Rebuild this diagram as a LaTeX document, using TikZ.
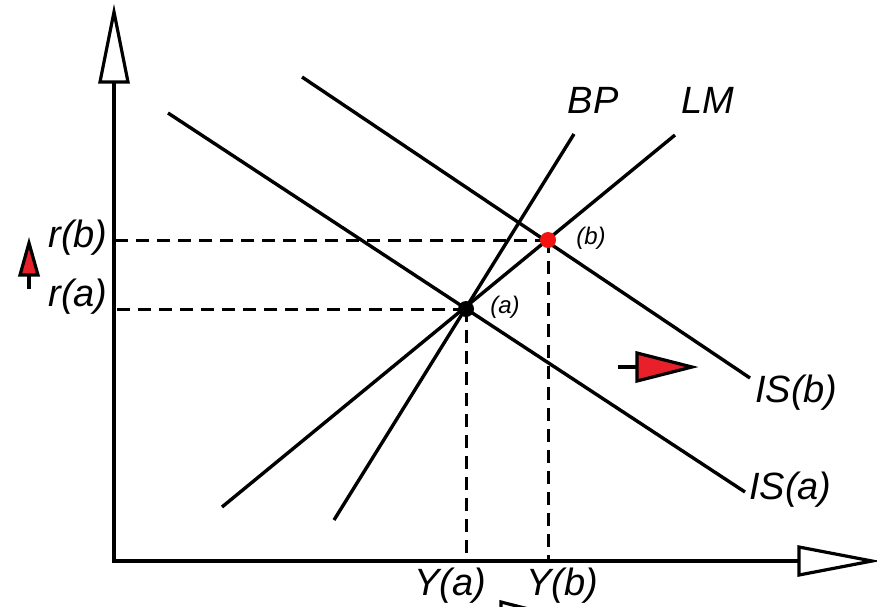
\documentclass[tikz,border=0pt]{standalone}
\usepackage{fontspec}
\setsansfont{Liberation Sans}
\usetikzlibrary{arrows.meta}
\definecolor{ptred}{HTML}{F21212}
\definecolor{arrowred}{HTML}{E8202A}
\tikzset{
  curve/.style={line width=3.4pt},
  axisline/.style={line width=3.4pt},
  guide/.style={line width=3pt,dash pattern=on 13pt off 8pt},
  lbl/.style={font=\sffamily\itshape\fontsize{38}{38}\selectfont,inner sep=0pt},
  smalllbl/.style={font=\sffamily\itshape\fontsize{24}{24}\selectfont,inner sep=0pt},
  openhead/.style={draw,line width=3.2pt,fill=white,line join=miter},
  shiftarrow/.style={draw,line width=3.2pt,fill=arrowred,line join=miter},
  dot/.style={circle,inner sep=0pt,minimum size=16pt}
}

\begin{document}
\begin{tikzpicture}[x=1pt,y=-1pt]
  \useasboundingbox (0,0) rectangle (877,606);
  \clip (0,0) rectangle (877,606);

  % axes
  \coordinate (origin) at (114,561);
  \coordinate (ytop) at (114,82);
  \coordinate (xend) at (799,561);
  \draw[axisline] (ytop) -- (origin) -- (xend);
  \draw[openhead] (114,12) -- (128,82) -- (100,82) -- cycle;
  \draw[openhead] (799,547) -- (872,561) -- (799,575) -- cycle;

  % curves
  \coordinate (isa1) at (168,113);
  \coordinate (isa2) at (745,492);
  \coordinate (isb1) at (302,77);
  \coordinate (isb2) at (750,378);
  \coordinate (lm1) at (222,507);
  \coordinate (lm2) at (675,135);
  \coordinate (bp1) at (334,520);
  \coordinate (bp2) at (574,134);
  \draw[curve] (isa1) -- (isa2);
  \draw[curve] (isb1) -- (isb2);
  \draw[curve] (lm1) -- (lm2);
  \draw[curve] (bp1) -- (bp2);

  % equilibria
  \coordinate (pa) at (466,309);
  \coordinate (pb) at (548,240);
  \draw[guide] (pa) -- (pa -| origin);
  \draw[guide] (pa) -- (pa |- origin);
  \draw[guide] (pb) -- (pb -| origin);
  \draw[guide] (pb) -- (pb |- origin);
  \node[dot,fill=black] (ptA) at (pa) {};
  \node[dot,fill=ptred] (ptB) at (pb) {};

  % labels
  \node[lbl] (bplbl) at (593,100) {BP};
  \node[lbl] (lmlbl) at (708,100) {LM};
  \node[lbl,anchor=west] (isblbl) at (755,393) {IS(b)};
  \node[lbl,anchor=west] (isalbl) at (749,490) {IS(a)};
  \node[lbl] (rblbl) at (78,238) {r(b)};
  \node[lbl] (ralbl) at (78,297) {r(a)};
  \node[lbl] (yalbl) at (450,586) {Y(a)};
  \node[lbl] (yblbl) at (562,586) {Y(b)};
  \node[smalllbl] (albl) at (505,307) {(a)};
  \node[smalllbl] (blbl) at (591,238) {(b)};

  % shift arrows
  \draw[line width=3.2pt] (29,289) -- (29,275);
  \draw[shiftarrow] (29,243) -- (38,275) -- (20,275) -- cycle;
  \draw[line width=3.2pt] (618,367) -- (637,367);
  \draw[shiftarrow] (637,353) -- (692,367) -- (637,381) -- cycle;
  \draw[openhead] (501,602) -- (556,616) -- (501,630) -- cycle;
\end{tikzpicture}
\end{document}
